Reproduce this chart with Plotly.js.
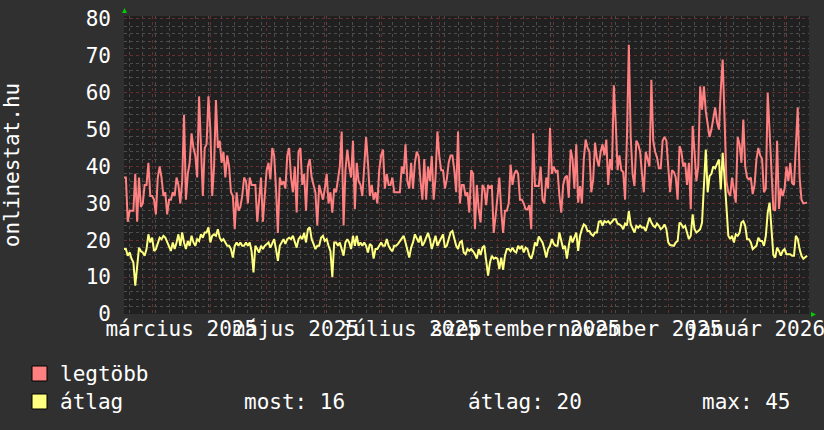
<!DOCTYPE html>
<html>
<head>
<meta charset="utf-8">
<script src="https://cdn.plot.ly/plotly-3.0.1.min.js"></script>
<style>html,body{margin:0;padding:0;background:#303030;}#chart{width:824px;height:430px;}</style>
</head>
<body>
<div id="chart"></div>
<script>
// ---- data ----
const startDate = '2025-02-14';
const endDate = '2026-02-14';

const legtobb = [
37,37,25,28,28,28,38,25,37,29, 30,35,35,41,32,32,31,27,37,40, 37,32,33,27,31,31,33,32,37,35,
30,36,54,31,38,41,49,45,43,37, 59,43,32,45,46,59,50,32,40,58, 45,47,41,44,37,43,40,33,32,23,
33,28,29,32,37,36,30,37,35,35, 35,25,31,
37,25,32,39,41,36.5,45,43,34,22, 37,35,36,34,43,45,37,33,40,27.5, 44,45,35,38,28,40,42,37,35,33,
24,35,33,31,34,38,30,33,27.5,34, 33,37,40,49.5,24,39,44.6,40,37,47, 28.4,41,36,35,32,40,48,41,32,35,
31,33,30,39,43,44.6,34,38,35,35, 37,33,33,
33,33,40,38,46,36,34,41,34,41, 44,42.8,36,31,42,31,40,36,42.8,31, 37,49.5,42.8,39,39,34,36.5,41,43,43,
39,33,49.5,30,35,35,32,33,27.5,39, 38,23,35,28.4,24.8,35,34,29.5,35,34, 35,22,26.5,32,37,28,22,28,28,30,
40.5,35,38,39,38,31,31,30,28.4,28.4, 29.5,23,49,
34.7,34.7,34.7,40,31,30,37,34,50.5,38, 40,38.5,39,32,27.5,35,37,37.5,31.5,44.6, 42,34,46,30.2,34.7,30,42,47.3,45,44,
33,36.5,46.5,42,40,44,46,43,47.3,35, 42,39,62,52,39,43,39,38.5,31,48, 73,48,38,34.7,47,46,44,38,33,44,
42,40,63.5,47,44,42.5,39.5,39.5,47,48, 47,
40,33,39,38.5,37,31,45.5,44,40,41, 35,41,28.4,51,44,36,40,61.7,55.4,61.7, 55,51,48,50,53,56,52,50,60.8,69,
53,36,33,32,37,33,30.2,48,46,41, 52.7,40,37,36.5,37,32.5,35,42,45,43, 42,33,34,60,48,40,28.4,28,47,28.5,
34,32,34,40,36,41,35.5,35,45,56, 37,31,30,30.2,30.2
];

const atlag = [
17.6,17.6,15.8,16.7,15,14,7.7,14,18,17, 16.7,15.8,17.6,21.6,19.4,20.7,17.1,17.6,19.4,20.7,
20.3,21.2,20.7,19.4,18.5,17.1,19.4,17.6,19.4,21.6, 18.5,22.1,19.4,17.6,19.8,18.5,21.2,19.4,18.5,20.3,
19.8,21.6,20.7,22.1,22.1,23.5,19.4,21.2,21.6,21.2, 23,20.7,19.8,20.3,19.4,18.5,18.5,17.6,15.3,18.5,
19.4,18.5,19.4,18.5,18.5,19.4,18.5,19.4,17,11.3, 18.5,17.6,16.7,
18.5,17.6,18.5,19,19.4,18,19.4,20.3,17.6,14.4, 18.5,19.4,20.3,19,20.3,20.7,20.3,21.2,19.4,18,
20.3,21,20.3,22,19.4,23,23.5,20.3,19,17.6, 18.5,18.5,20.7,21.2,19.8,20.3,18.5,17,10,19.4,
19.4,18.5,19.4,17.6,15.8,19.4,20.3,19.4,17.6,21.2, 18.5,21.2,18.5,19.4,18.5,19.4,18.5,16.7,19,18.5,
15,17.6,17.6,18.5,19.4,18.5,18.5,20.3,18.5,17.6, 17,18.5,18.5,
19,19.8,20.5,21.2,19.4,17.6,15.3,18,19.4,21.6, 20.3,19.4,21.2,18.5,19.4,20.7,22,20.3,17.6,19.4,
21.2,18.5,19.4,20.7,21.6,18,18.5,20.3,22.1,22.5, 20.3,18.5,17.6,19.4,19.8,16.7,16.2,17.6,17.1,17.6,
17,16.2,15,17.6,16,18,18.5,15,10.4,14, 15.8,15,15.3,15,12.2,15.3,12,15.8,17.6,17.6,
17,18,17,16.7,18.5,17.6,18.5,16.7,18,17.6, 15.8,15,16.7,
19.4,18.5,21,20,19.4,17.6,15.3,17.6,18.5,20.3, 19,18.5,18.5,22.1,19.4,17.6,18.5,15,18.5,21.2,
19.4,20.7,22.1,17.1,21.2,23,24.3,23.9,22.5,22.5, 21.6,21.2,22.1,22.1,25,25.2,24,25.2,24.8,25.2,
24.5,25,25.7,25.7,24.5,24.3,23.9,23,24.5,24, 27.9,24.3,23.2,22.1,23.9,23.4,24,23.4,23.5,22.5,
24.3,26.1,24.8,23.9,23.5,24.5,23.9,23,23.4,24.3, 23,
19.4,18.7,18.5,18.5,19.4,19.8,24.8,24.3,23.4,23.9, 22.1,20.3,21.2,27,23,22.1,22.5,23,24.8,33.8,
44.6,33,37.4,38,40,39.5,41,41.9,33.8,43.7, 37,30,21.2,20.3,21.2,19.4,21.6,21.2,22,24.8,
25.2,23.9,20.3,20.3,19.4,17.6,18,18.5,20.7,19.8, 19.8,18.5,21.2,27.5,30.2,22.1,16,15.3,18,17.1,
15.8,17.1,17.6,16.2,16.2,16.2,15.8,15.8,21.2,20.3, 17.6,15.8,15,15.5,15.8
];

const monthStarts = ['2025-03-01','2025-04-01','2025-05-01','2025-06-01','2025-07-01','2025-08-01',
  '2025-09-01','2025-10-01','2025-11-01','2025-12-01','2026-01-01','2026-02-01'];
const labelDates = ['2025-03-16 12:00','2025-05-16 12:00','2025-07-16 12:00','2025-09-16 00:00','2025-11-16 00:00','2026-01-16 12:00'];
const labelTexts = ['március 2025','május 2025','július 2025','szeptember 2025','november 2025','január 2026'];
const yTicks = [0,10,20,30,40,50,60,70,80];
const seriesNames = ['legtöbb','átlag'];
const seriesColors = ['#ff8080','#ffff80'];
const yTitle = 'onlinestat.hu';

// ---- build ----
function dayList(n){
  const out=[]; const p=startDate.split('-').map(Number);
  for(let i=0;i<n;i++){ const d=new Date(Date.UTC(p[0],p[1]-1,p[2]+i)); out.push(d.toISOString().slice(0,10)); }
  return out;
}
const dates = dayList(legtobb.length);
const most = Math.round(atlag[atlag.length-1]);
const avg = Math.round(atlag.reduce((a,b)=>a+b,0)/atlag.length);
const mx = Math.round(Math.max(...atlag));

const L=124, R=15, T=16, B=116, W=824, H=430;
const PW=W-L-R, PH=H-T-B;
const px=x=>(x-L)/PW, py=y=>(H-B-y)/PH;
const font='DejaVu Sans Mono, monospace';
const fs=21;

const traces=[
  {x:dates, y:legtobb, type:'scatter', mode:'lines', name:seriesNames[0], xaxis:'x', yaxis:'y',
   line:{color:seriesColors[0], width:2}, hoverinfo:'skip'},
  {x:dates, y:atlag, type:'scatter', mode:'lines', name:seriesNames[1], xaxis:'x2', yaxis:'y',
   line:{color:seriesColors[1], width:2}, hoverinfo:'skip'}
];

const layout={
  width:W, height:H, showlegend:false,
  margin:{l:L, r:R, t:T, b:B, pad:0},
  paper_bgcolor:'#303030', plot_bgcolor:'#202020',
  font:{family:font, size:fs, color:'#ffffff'},
  xaxis:{type:'date', range:[startDate,endDate], tickvals:monthStarts, showticklabels:false,
    showgrid:true, gridcolor:'#6a2e2e', griddash:'dot', gridwidth:1, zeroline:false, showline:false, ticks:'',
    minor:{dtick:7*86400000, tick0:'2025-03-10', showgrid:true, gridcolor:'#4c4c4c', griddash:'dot', gridwidth:1, ticks:''}},
  xaxis2:{type:'date', overlaying:'x', anchor:'y', side:'bottom', range:[startDate,endDate],
    tickvals:labelDates, ticktext:labelTexts, tickangle:0, showgrid:false, zeroline:false, showline:false, ticks:'',
    ticklabelstandoff:0, ticklabeloverflow:'allow', tickfont:{family:font, size:fs, color:'#ffffff'}},
  yaxis:{range:[0,80.8], tickvals:yTicks, showgrid:true, gridcolor:'#6a2e2e', griddash:'dot', gridwidth:1,
    zeroline:false, showline:false, ticks:'', ticklabelstandoff:12,
    tickfont:{family:font, size:fs, color:'#ffffff'},
    minor:{dtick:2, showgrid:true, gridcolor:'#4c4c4c', griddash:'dot', gridwidth:1, ticks:''},
    title:{text:yTitle, standoff:60, font:{family:font, size:fs, color:'#ffffff'}}},
  shapes:[
    {type:'rect', xref:'paper', yref:'paper', x0:px(32), x1:px(47), y0:py(366), y1:py(381),
     fillcolor:seriesColors[0], line:{color:'#000000', width:1}},
    {type:'rect', xref:'paper', yref:'paper', x0:px(32), x1:px(47), y0:py(394), y1:py(409),
     fillcolor:seriesColors[1], line:{color:'#000000', width:1}},
    {type:'path', xref:'paper', yref:'paper', xsizemode:'pixel', ysizemode:'pixel', xanchor:0, yanchor:1,
     path:'M -2,3 L 3,3 L 0.5,8 Z', fillcolor:'#00cc00', line:{width:0}},
    {type:'path', xref:'paper', yref:'paper', xsizemode:'pixel', ysizemode:'pixel', xanchor:1, yanchor:0,
     path:'M 2,-3 L 2,2 L 7,-0.5 Z', fillcolor:'#00cc00', line:{width:0}}
  ],
  annotations:[
    {text:seriesNames[0], x:px(58), y:py(374), xref:'paper', yref:'paper', xanchor:'left', yanchor:'middle', showarrow:false},
    {text:seriesNames[1], x:px(58), y:py(402), xref:'paper', yref:'paper', xanchor:'left', yanchor:'middle', showarrow:false},
    {text:'most: '+most, x:px(242), y:py(402), xref:'paper', yref:'paper', xanchor:'left', yanchor:'middle', showarrow:false},
    {text:'átlag: '+avg, x:px(466), y:py(402), xref:'paper', yref:'paper', xanchor:'left', yanchor:'middle', showarrow:false},
    {text:'max: '+mx, x:px(700), y:py(402), xref:'paper', yref:'paper', xanchor:'left', yanchor:'middle', showarrow:false}
  ]
};
Plotly.newPlot('chart', traces, layout, {staticPlot:true, displayModeBar:false});
</script>
</body>
</html>
